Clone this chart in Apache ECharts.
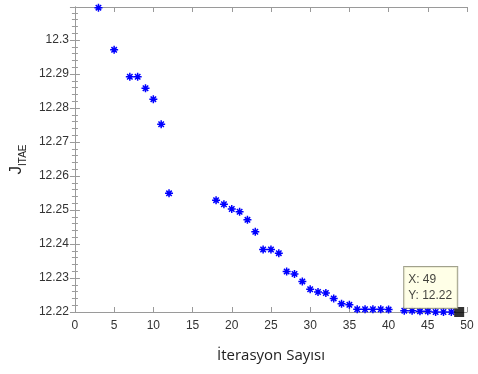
<!DOCTYPE html>
<html>
<head>
<meta charset="utf-8">
<script src="https://cdn.jsdelivr.net/npm/echarts@6/dist/echarts.min.js"></script>
<style>html,body{margin:0;padding:0;background:#fff;}#c{width:478px;height:374px;}</style>
</head>
<body>
<div id="c"></div>
<script>
var iterations = [3, 5, 7, 8, 9, 10, 11, 12, 18, 19, 20, 21, 22, 23, 24, 25, 26, 27, 28, 29, 30, 31, 32, 33, 34, 35, 36, 37, 38, 39, 40, 42, 43, 44, 45, 46, 47, 48];
var jValues = [12.3095, 12.2971, 12.2892, 12.2892, 12.2858, 12.2826, 12.2752, 12.2549, 12.2529, 12.2517, 12.2503, 12.2495, 12.2471, 12.2436, 12.2384, 12.2384, 12.2373, 12.2319, 12.2312, 12.2290, 12.2267, 12.2259, 12.2256, 12.2240, 12.2224, 12.2221, 12.2208, 12.2208, 12.2208, 12.2208, 12.2207, 12.2204, 12.2204, 12.2202, 12.2202, 12.2200, 12.2200, 12.2200];
var selectedX = 49;
var selectedY = 12.22;
var xTicks = [0, 5, 10, 15, 20, 25, 30, 35, 40, 45, 50];
var yTicks = [12.22, 12.23, 12.24, 12.25, 12.26, 12.27, 12.28, 12.29, 12.3];

var axisColor = '#9a9a9a';
var chart = echarts.init(document.getElementById('c'));
var asterisk = 'path://M0 5 L10 5 M5 0 L5 10 M1.6 1.6 L8.4 8.4 M8.4 1.6 L1.6 8.4';
var yFmt = function (v) {
  var r = Math.round(v * 100) / 100;
  if (Math.abs(r - v) > 1e-7) return '';
  return yTicks.indexOf(r) >= 0 ? String(r) : '';
};
var frameAxis = {
  axisLine: {show: true, lineStyle: {color: axisColor, width: 1}},
  axisTick: {show: true, inside: true, length: 5, lineStyle: {color: axisColor}},
  splitLine: {show: false}
};
chart.setOption({
  animation: false,
  grid: {left: 72, right: 11, top: 7, bottom: 62, containLabel: false},
  xAxis: [{
    type: 'value', min: xTicks[0], max: xTicks[xTicks.length - 1], interval: 5,
    position: 'bottom',
    name: 'İterasyon Sayısı', nameLocation: 'middle', nameGap: 36,
    nameTextStyle: {fontFamily: 'Open Sans', fontSize: 15, color: '#222'},
    axisLine: frameAxis.axisLine, axisTick: frameAxis.axisTick, splitLine: frameAxis.splitLine,
    axisLabel: {fontFamily: 'Liberation Sans', fontSize: 12, color: '#333', margin: 8}
  }, {
    type: 'value', min: xTicks[0], max: xTicks[xTicks.length - 1], interval: 5,
    position: 'top',
    axisLine: frameAxis.axisLine, axisTick: frameAxis.axisTick, splitLine: frameAxis.splitLine,
    axisLabel: {show: false}
  }],
  yAxis: [{
    type: 'value', min: 12.22, max: 12.3097, interval: 0.01,
    position: 'left',
    name: '{j|J}{s|ITAE}', nameLocation: 'middle', nameGap: 40, nameRotate: 90,
    nameTextStyle: {
      color: '#222',
      rich: {
        j: {fontFamily: 'Liberation Sans', fontSize: 17, color: '#222', verticalAlign: 'bottom'},
        s: {fontFamily: 'Liberation Sans', fontSize: 10, color: '#222', verticalAlign: 'bottom', padding: [0, 0, -3, 0]}
      }
    },
    axisLine: frameAxis.axisLine, axisTick: frameAxis.axisTick, splitLine: frameAxis.splitLine,
    minorTick: {show: true, splitNumber: 5, length: 3, lineStyle: {color: axisColor}},
    axisLabel: {fontFamily: 'Liberation Sans', fontSize: 12, color: '#333', margin: 6, formatter: yFmt}
  }, {
    type: 'value', min: 12.22, max: 12.3097, interval: 0.01,
    position: 'right',
    axisLine: frameAxis.axisLine, axisTick: frameAxis.axisTick, splitLine: frameAxis.splitLine,
    minorTick: {show: true, splitNumber: 5, length: 3, lineStyle: {color: axisColor}},
    axisLabel: {show: false}
  }],
  series: [{
    type: 'scatter',
    xAxisIndex: 0, yAxisIndex: 0,
    symbol: asterisk,
    symbolSize: 8,
    itemStyle: {color: '#0000ff', borderColor: '#0000ff', borderWidth: 1.5, opacity: 1},
    data: iterations.map(function (x, i) { return [x, jValues[i]]; }),
    clip: false
  }, {
    type: 'scatter',
    xAxisIndex: 0, yAxisIndex: 0,
    symbol: 'rect',
    symbolSize: 10,
    itemStyle: {color: '#000000'},
    data: [[selectedX, selectedY]],
    clip: false,
    label: {
      show: true,
      position: [-50, -40],
      align: 'left',
      verticalAlign: 'top',
      formatter: function () { return 'X: ' + selectedX + '\nY: ' + selectedY; },
      fontFamily: 'Liberation Sans',
      fontSize: 12,
      lineHeight: 16,
      color: '#111',
      backgroundColor: '#ffffe1',
      borderColor: '#8a8a70',
      borderWidth: 1,
      padding: [5, 5, 4, 4]
    }
  }]
});
</script>
</body>
</html>
